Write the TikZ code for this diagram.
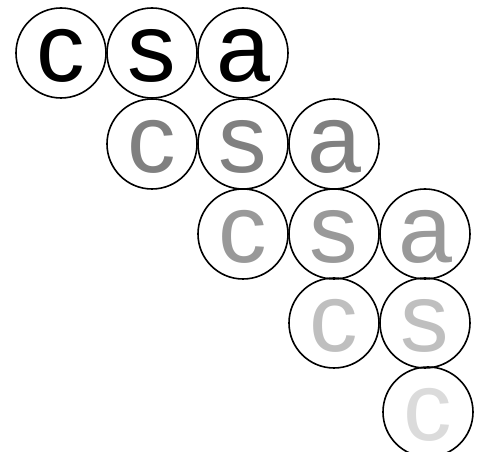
\documentclass[tikz,border=0pt]{standalone}
\usepackage{fontspec}
\setmainfont{Liberation Sans}
\definecolor{g1}{gray}{0}
\definecolor{g2}{gray}{0.5}
\definecolor{g3}{gray}{0.6}
\definecolor{g4}{gray}{0.75}
\definecolor{g5}{gray}{0.86}
\begin{document}
\begin{tikzpicture}[x=1pt,y=1pt,
  ball/.style={draw=black, line width=1.6pt, circle, minimum size=90pt, inner sep=0pt,
    text height=58pt, text depth=0pt, font=\fontsize{97}{97}\selectfont}]
\useasboundingbox (0,0) rectangle (483,452);
% row 1
\node[ball, text=g1] (r1c) at (61,399) {c};
\node[ball, text=g1] (r1s) at (152,399) {s};
\node[ball, text=g1] (r1a) at (243,399) {a};
% row 2
\node[ball, text=g2] (r2c) at (152,308) {c};
\node[ball, text=g2] (r2s) at (243,308) {s};
\node[ball, text=g2] (r2a) at (334,308) {a};
% row 3
\node[ball, text=g3] (r3c) at (243,218) {c};
\node[ball, text=g3] (r3s) at (334,218) {s};
\node[ball, text=g3] (r3a) at (425,218) {a};
% row 4
\node[ball, text=g4] (r4c) at (334,129) {c};
\node[ball, text=g4] (r4s) at (425,129) {s};
% row 5
\node[ball, text=g5] (r5c) at (428,40) {c};
\end{tikzpicture}
\end{document}
